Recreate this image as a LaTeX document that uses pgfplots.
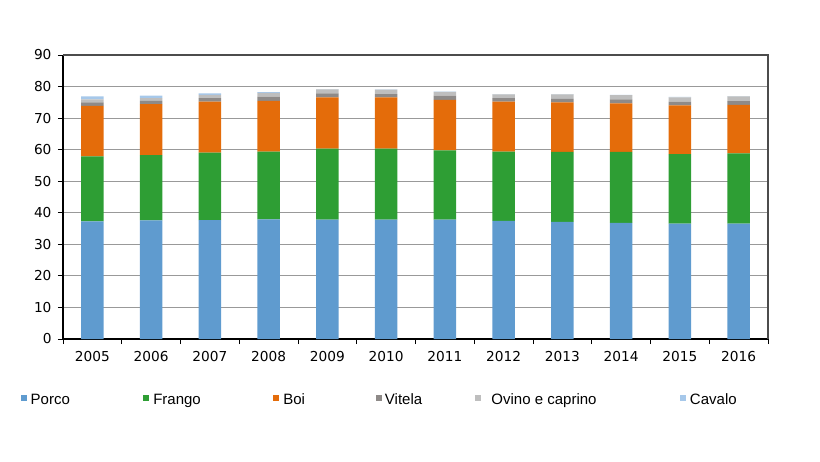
\documentclass[border=0pt]{standalone}
\usepackage{pgfplots}
\usepackage{pgfplotstable}
\pgfplotsset{compat=1.18}
\usepackage{fontspec}
\setmainfont{Liberation Sans}
\newfontfamily\tickfont{DejaVu Sans}

\definecolor{cporco}{HTML}{5F9BCF}
\definecolor{cfrango}{HTML}{2E9E34}
\definecolor{cboi}{HTML}{E46C0A}
\definecolor{cvitela}{HTML}{8E8A88}
\definecolor{covino}{HTML}{BEBEBE}
\definecolor{ccavalo}{HTML}{A6C8EA}

% consumo por ano (stacked)
\pgfplotstableread{
x  porco frango boi  vitela ovino cavalo
0  37.3  20.6   16.0 1.1    0.9   1.0
1  37.6  20.7   16.1 1.1    0.8   0.8
2  37.7  21.4   16.1 1.1    1.1   0.4
3  37.9  21.5   16.1 1.3    1.2   0.2
4  37.8  22.5   16.3 1.2    1.3   0.1
5  37.8  22.5   16.3 1.0    1.4   0.1
6  37.8  22.0   16.0 1.3    1.2   0.1
7  37.4  22.0   15.8 1.1    1.2   0.1
8  37.1  22.2   15.7 1.1    1.4   0.1
9  36.8  22.5   15.4 1.2    1.4   0.1
10 36.6  22.0   15.4 1.2    1.4   0.1
11 36.6  22.2   15.4 1.2    1.5   0.1
}\consumo

\begin{document}
\begin{tikzpicture}
\useasboundingbox (0,0) rectangle (820pt,461pt);
\begin{axis}[
    at={(63pt,122pt)}, anchor=south west,
    scale only axis, width=705pt, height=284pt,
    clip=false,
    ybar stacked, bar width=22.7pt,
    xmin=-0.5, xmax=11.5, ymin=0, ymax=90,
    ytick={0,10,...,90},
    xtick={-0.5,0.5,...,11.5},
    xticklabels={2005,2006,2007,2008,2009,2010,2011,2012,2013,2014,2015,2016,},
    xticklabel style={xshift=29.375pt, yshift=-4pt},
    yticklabel style={xshift=-3pt},
    xtick pos=bottom, ytick pos=left,
    tick align=outside, major tick length=5pt,
    tick style={black, line width=1pt},
    ymajorgrids, grid style={draw=black!40, line width=1.1pt},
    axis line style={draw=none},
    /pgf/number format/assume math mode=true,
    ticklabel style={font=\tickfont\fontsize{13.7}{16}\selectfont},
    legend columns=6,
    legend style={at={(-0.06,-0.2116)}, anchor=west, draw=none, fill=none,
        inner sep=0pt, outer sep=0pt, nodes={inner sep=0pt},
        font=\fontsize{15}{18}\selectfont,
        /tikz/every even column/.append style={column sep=0pt},
        /tikz/every odd column/.append style={column sep=0pt}},
    legend cell align=left,
    legend image code/.code={\fill[draw=none] (0pt,-1.9pt) rectangle (6pt,4.1pt);},
]
\addplot[fill=cporco, draw=none] table[x=x, y=porco] {\consumo};
\addlegendentry{\makebox[116.6pt][l]{\strut\hspace{4pt}Porco}}
\addplot[fill=cfrango, draw=none] table[x=x, y=frango] {\consumo};
\addlegendentry{\makebox[124pt][l]{\strut\hspace{4pt}Frango}}
\addplot[fill=cboi, draw=none] table[x=x, y=boi] {\consumo};
\addlegendentry{\makebox[96.7pt][l]{\strut\hspace{4pt}Boi}}
\addplot[fill=cvitela, draw=none] table[x=x, y=vitela] {\consumo};
\addlegendentry{\makebox[93pt][l]{\strut\hspace{3pt}Vitela}}
\addplot[fill=covino, draw=none] table[x=x, y=ovino] {\consumo};
\addlegendentry{\makebox[199pt][l]{\strut\hspace{10.5pt}Ovino e caprino}}
\addplot[fill=ccavalo, draw=none] table[x=x, y=cavalo] {\consumo};
\addlegendentry{\strut\hspace{4pt}Cavalo}
\draw[black!70, line width=1.2pt] (rel axis cs:0,1) -- (rel axis cs:1,1) -- (rel axis cs:1,0);
\draw[black, line width=1.3pt] (rel axis cs:0,1) -- (rel axis cs:0,0) -- (rel axis cs:1,0);
\end{axis}
\end{tikzpicture}
\end{document}
